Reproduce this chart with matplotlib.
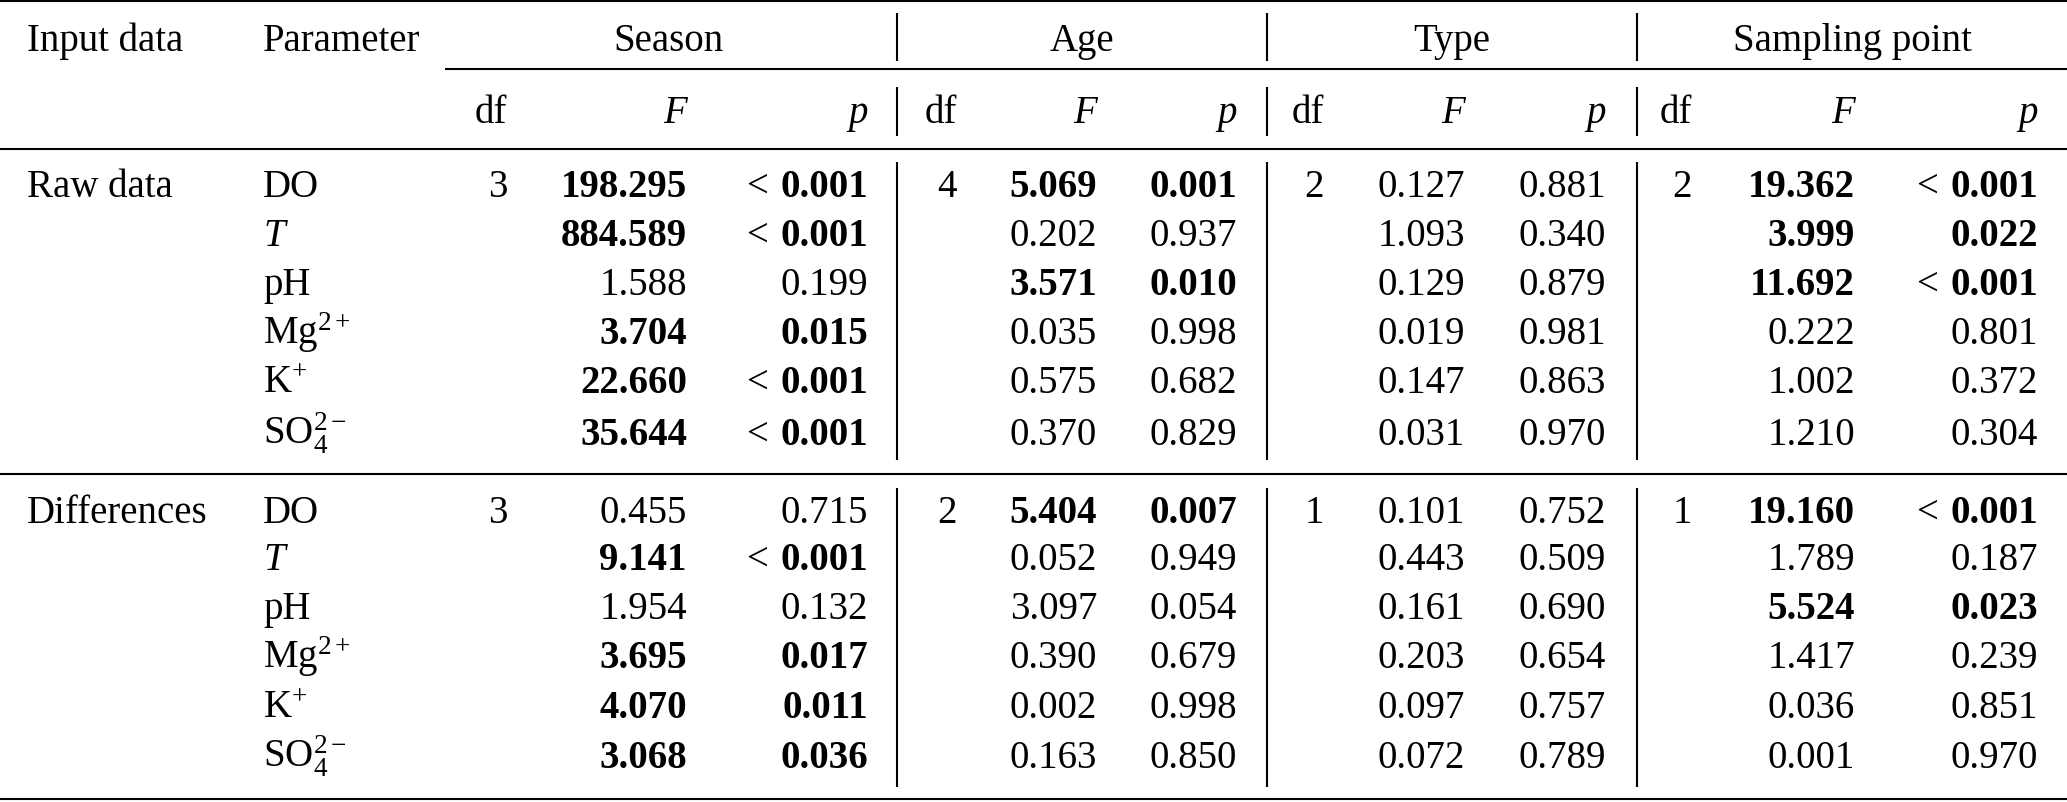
import numpy as np
import matplotlib
matplotlib.use("Agg")
import matplotlib.pyplot as plt

plt.rcParams['font.family'] = ['Liberation Serif', 'DejaVu Serif']
plt.rcParams['mathtext.fontset'] = 'custom'
plt.rcParams['mathtext.rm'] = 'Liberation Serif'
plt.rcParams['mathtext.it'] = 'Liberation Serif:italic'
plt.rcParams['mathtext.bf'] = 'Liberation Serif:bold'

# --- table data ---
input_data = ["Raw data", "Differences"]
params = ["DO", "$T$", "pH", "Mg$^{2+}$", "K$^{+}$", "SO$_4^{2-}$"]
factors = ["Season", "Age", "Type", "Sampling point"]

# degrees of freedom per factor, for raw data and differences
df_raw = [3, 4, 2, 2]
df_diff = [3, 2, 1, 1]

# F values  (rows = parameters, one list per factor)
F_raw = {
    "Season": [198.295, 884.589, 1.588, 3.704, 22.660, 35.644],
    "Age": [5.069, 0.202, 3.571, 0.035, 0.575, 0.370],
    "Type": [0.127, 1.093, 0.129, 0.019, 0.147, 0.031],
    "Sampling point": [19.362, 3.999, 11.692, 0.222, 1.002, 1.210],
}
# p values, 0.0 stands for "< 0.001"
p_raw = {
    "Season": [0.0, 0.0, 0.199, 0.015, 0.0, 0.0],
    "Age": [0.001, 0.937, 0.010, 0.998, 0.682, 0.829],
    "Type": [0.881, 0.340, 0.879, 0.981, 0.863, 0.970],
    "Sampling point": [0.0, 0.022, 0.0, 0.801, 0.372, 0.304],
}
F_diff = {
    "Season": [0.455, 9.141, 1.954, 3.695, 4.070, 3.068],
    "Age": [5.404, 0.052, 3.097, 0.390, 0.002, 0.163],
    "Type": [0.101, 0.443, 0.161, 0.203, 0.097, 0.072],
    "Sampling point": [19.160, 1.789, 5.524, 1.417, 0.036, 0.001],
}
p_diff = {
    "Season": [0.715, 0.0, 0.132, 0.017, 0.011, 0.036],
    "Age": [0.007, 0.949, 0.054, 0.679, 0.998, 0.850],
    "Type": [0.752, 0.509, 0.690, 0.654, 0.757, 0.789],
    "Sampling point": [0.0, 0.187, 0.023, 0.239, 0.851, 0.970],
}

# --- layout (pixel coords) ---
W, H = 2067, 803
fs = 28
col_right = {  # df, F, p right edges
    "Season": (507, 687, 868),
    "Age": (957, 1097, 1237),
    "Type": (1324, 1465, 1606),
    "Sampling point": (1692, 1855, 2038),
}
grp_center = {"Season": 669, "Age": 1082, "Type": 1452, "Sampling point": 1852}
vlines_x = [897, 1267, 1637]
vsegs = [(14, 62), (88, 137), (163, 461), (489, 788)]
x_input, x_param = 27, 263
y_head1, y_head2 = 51, 123
rows_y = [[197, 246, 295, 344, 393, 445], [523, 570, 619, 668, 718, 768]]

fig = plt.figure(figsize=(W / 100, H / 100), dpi=100)
ax = fig.add_axes([0, 0, 1, 1])
ax.set_xlim(0, W)
ax.set_ylim(H, 0)
ax.axis("off")
renderer = fig.canvas.get_renderer()

# rules
lw = 1.5
for y in [2, 150, 475, 800]:
    ax.plot([0, W], [y, y], color="black", lw=lw, solid_capstyle="butt")
ax.plot([445, W], [70, 70], color="black", lw=lw, solid_capstyle="butt")
for x in vlines_x:
    for y0, y1 in vsegs:
        ax.plot([x, x], [y0, y1], color="black", lw=lw, solid_capstyle="butt")

# header
ax.text(x_input, y_head1, "Input data", fontsize=fs, va="baseline", ha="left")
ax.text(x_param, y_head1, "Parameter", fontsize=fs, va="baseline", ha="left")
for name in factors:
    ax.text(grp_center[name], y_head1, name, fontsize=fs, va="baseline", ha="center")
    xd, xf, xp = col_right[name]
    ax.text(xd, y_head2, "df", fontsize=fs, va="baseline", ha="right")
    ax.text(xf, y_head2, "F", fontsize=fs, va="baseline", ha="right", style="italic")
    ax.text(xp, y_head2, "p", fontsize=fs, va="baseline", ha="right", style="italic")


def draw_p(x, y, p):
    bold = "bold" if p < 0.05 else "normal"
    if p == 0.0:
        t = ax.text(x, y, "0.001", fontsize=fs, va="baseline", ha="right", weight="bold")
        bb = t.get_window_extent(renderer)
        ax.text(bb.x0 - 12, y, "<", fontsize=fs, va="baseline", ha="right")
    else:
        ax.text(x, y, "{:.3f}".format(p), fontsize=fs, va="baseline", ha="right", weight=bold)


blocks = [(df_raw, F_raw, p_raw), (df_diff, F_diff, p_diff)]
for g, (dfs, Fs, ps) in enumerate(blocks):
    ys = rows_y[g]
    ax.text(x_input, ys[0], input_data[g], fontsize=fs, va="baseline", ha="left")
    for i, par in enumerate(params):
        ax.text(x_param, ys[i], par, fontsize=fs, va="baseline", ha="left")
    for k, name in enumerate(factors):
        xd, xf, xp = col_right[name]
        ax.text(xd, ys[0], str(dfs[k]), fontsize=fs, va="baseline", ha="right")
        for i in range(len(params)):
            p = ps[name][i]
            w = "bold" if p < 0.05 else "normal"
            ax.text(xf, ys[i], "{:.3f}".format(Fs[name][i]), fontsize=fs,
                    va="baseline", ha="right", weight=w)
            draw_p(xp, ys[i], p)

fig.savefig("out.png", dpi=100)
